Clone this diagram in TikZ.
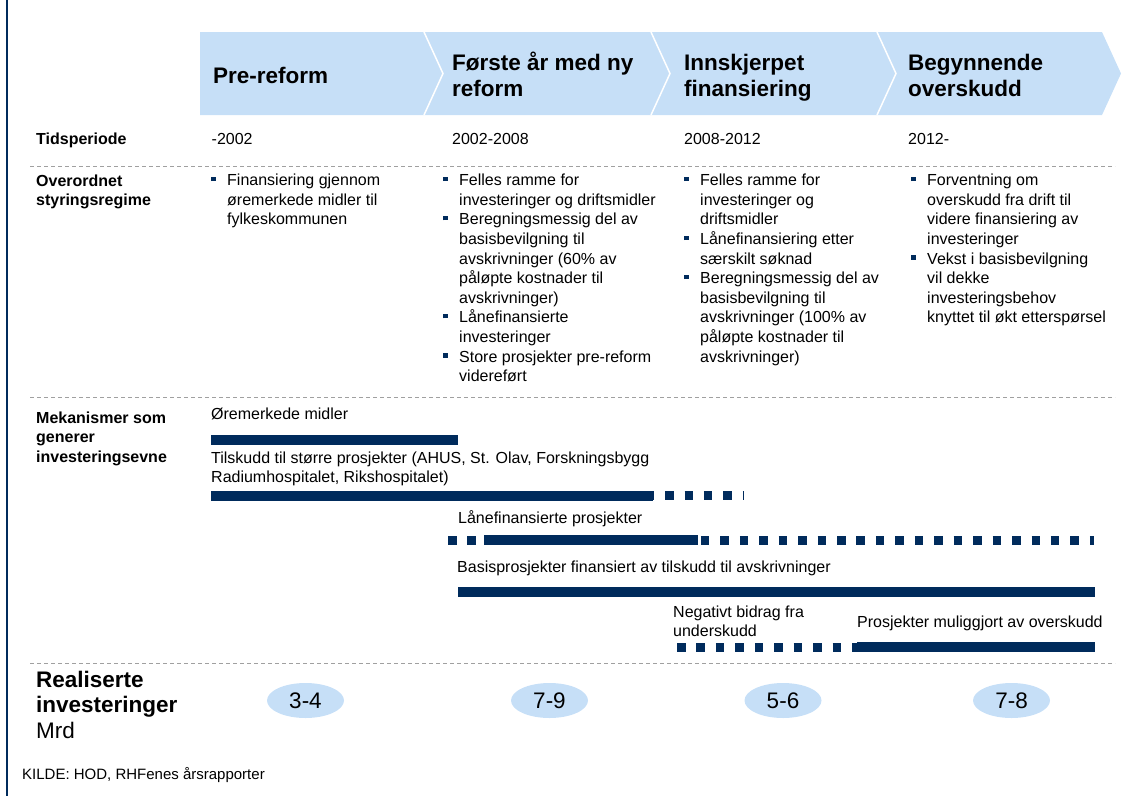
\documentclass[tikz,border=0pt]{standalone}
\usepackage{fontspec}
\setmainfont{Liberation Sans}
\usetikzlibrary{shapes.geometric}
\definecolor{navy}{HTML}{002B5C}
\definecolor{paleblue}{HTML}{C6DFF7}
\definecolor{rulegray}{HTML}{A0A0A0}
% invisible struts fixing the height of the first line of each text block
\newcommand\bodystrut{\rule{0pt}{13pt}}
\newcommand\headstrut{\rule{0pt}{19pt}}
% square bullet and hanging indent for the bullet lists
\newcommand\bul{\makebox[16pt][l]{\raisebox{4.5pt}{\textcolor{navy}{\rule{4.5pt}{4.5pt}}}}}
\newcommand\ind{\hspace*{16pt}}

\begin{document}
\begin{tikzpicture}[x=1pt,y=-1pt,
  body/.style={inner sep=0pt, anchor=north west, align=left,
               font=\fontsize{16}{19.6}\selectfont},
  bodybold/.style={body, font=\fontsize{16}{19.6}\selectfont\bfseries},
  head/.style={inner sep=0pt, anchor=north west, align=left,
               font=\fontsize{22.5}{26}\selectfont\bfseries},
  bar/.style={navy, line width=10pt},
  dotbar/.style={navy, line width=9pt, dash pattern=on 8.5pt off 10.95pt},
  sepline/.style={rulegray, line width=0.9pt, dash pattern=on 4pt off 3pt},
  value/.style={ellipse, fill=paleblue, minimum width=77pt, minimum height=35pt,
                inner sep=0pt, font=\fontsize{22.5}{26}\selectfont},
]
\useasboundingbox (0,0) rectangle (1141,796);

% left border
\draw[navy, line width=2.5pt] (7,0) -- (7,796);

% phase band with chevron separators
\fill[paleblue] (200,32) -- (1102,32) -- (1121,73.5) -- (1102,115) -- (200,115) -- cycle;
\foreach \x in {424,651,877}
  \draw[white, line width=1.5pt] (\x,32) -- (\x+19,73.5) -- (\x,115);

\node[head] (h1) at (213,64) {\headstrut Pre-reform};
\node[head] (h2) at (452,51) {\headstrut Første år med ny\\reform};
\node[head] (h3) at (684,51) {\headstrut Innskjerpet\\finansiering};
\node[head] (h4) at (908,51) {\headstrut Begynnende\\overskudd};

% time periods
\node[bodybold] (lblTid) at (36,131) {\bodystrut Tidsperiode};
\node[body] (p1) at (211.5,131) {\bodystrut -2002};
\node[body] (p2) at (452,131) {\bodystrut 2002-2008};
\node[body] (p3) at (684,131) {\bodystrut 2008-2012};
\node[body] (p4) at (908,131) {\bodystrut 2012-};

\draw[sepline] (30,166) -- (1115,166);

% governance regime
\node[bodybold] (lblStyr) at (36,173) {\bodystrut Overordnet\\styringsregime};
\node[body] (c1) at (211,172.5) {\bodystrut\bul Finansiering gjennom\\
  \ind øremerkede midler til\\
  \ind fylkeskommunen};
\node[body] (c2) at (443,172.5) {\bodystrut\bul Felles ramme for\\
  \ind investeringer og driftsmidler\\
  \bul Beregningsmessig del av\\
  \ind basisbevilgning til\\
  \ind avskrivninger (60\% av\\
  \ind påløpte kostnader til\\
  \ind avskrivninger)\\
  \bul Lånefinansierte\\
  \ind investeringer\\
  \bul Store prosjekter pre-reform\\
  \ind videreført};
\node[body] (c3) at (684,172.5) {\bodystrut\bul Felles ramme for\\
  \ind investeringer og\\
  \ind driftsmidler\\
  \bul Lånefinansiering etter\\
  \ind særskilt søknad\\
  \bul Beregningsmessig del av\\
  \ind basisbevilgning til\\
  \ind avskrivninger (100\% av\\
  \ind påløpte kostnader til\\
  \ind avskrivninger)};
\node[body] (c4) at (911,172.5) {\bodystrut\bul Forventning om\\
  \ind overskudd fra drift til\\
  \ind videre finansiering av\\
  \ind investeringer\\
  \bul Vekst i basisbevilgning\\
  \ind vil dekke\\
  \ind investeringsbehov\\
  \ind knyttet til økt etterspørsel};

\draw[sepline] (30,397) -- (1115,397);

% mechanisms generating investment capacity
\node[bodybold] (lblMek) at (36,410) {\bodystrut Mekanismer som\\generer\\investeringsevne};

\node[body] (m1) at (211,406) {\bodystrut Øremerkede midler};
\draw[bar] (211,440) -- (458,440);

\node[body] (m2) at (211,450) {\bodystrut Tilskudd til større prosjekter (AHUS, St. Olav, Forskningsbygg\\Radiumhospitalet, Rikshospitalet)};
\draw[dotbar] (490,495.5) -- (743.5,495.5);
\draw[bar] (211,495.5) -- (653,495.5);

\node[body] (m3) at (458,510) {\bodystrut Lånefinansierte prosjekter};
\draw[dotbar] (448,540) -- (1094,540);
\draw[bar] (484,540) -- (698,540);

\node[body] (m4) at (457,559) {\bodystrut Basisprosjekter finansiert av tilskudd til avskrivninger};
\draw[bar] (458,592) -- (1095,592);

\node[body] (m5) at (673,604) {\bodystrut Negativt bidrag fra\\underskudd};
\node[body] (m6) at (857,614) {\bodystrut Prosjekter muliggjort av overskudd};
\draw[dotbar] (677,647) -- (875,647);
\draw[bar] (857,647) -- (1095,647);

\draw[sepline] (30,663) -- (1115,663);

% realised investments
\node[head, font=\fontsize{22.5}{25.5}\selectfont\bfseries] (lblReal) at (36,668)
  {\headstrut Realiserte\\investeringer\\{\mdseries Mrd}};
\node[value] (v1) at (305.5,700.5) {3-4};
\node[value] (v2) at (549.5,700.5) {7-9};
\node[value] (v3) at (783,700.5) {5-6};
\node[value] (v4) at (1011.5,700.5) {7-8};

\node[body, font=\fontsize{15}{18}\selectfont] (src) at (22,767) {\rule{0pt}{12pt}KILDE: HOD, RHFenes årsrapporter};
\end{tikzpicture}
\end{document}
